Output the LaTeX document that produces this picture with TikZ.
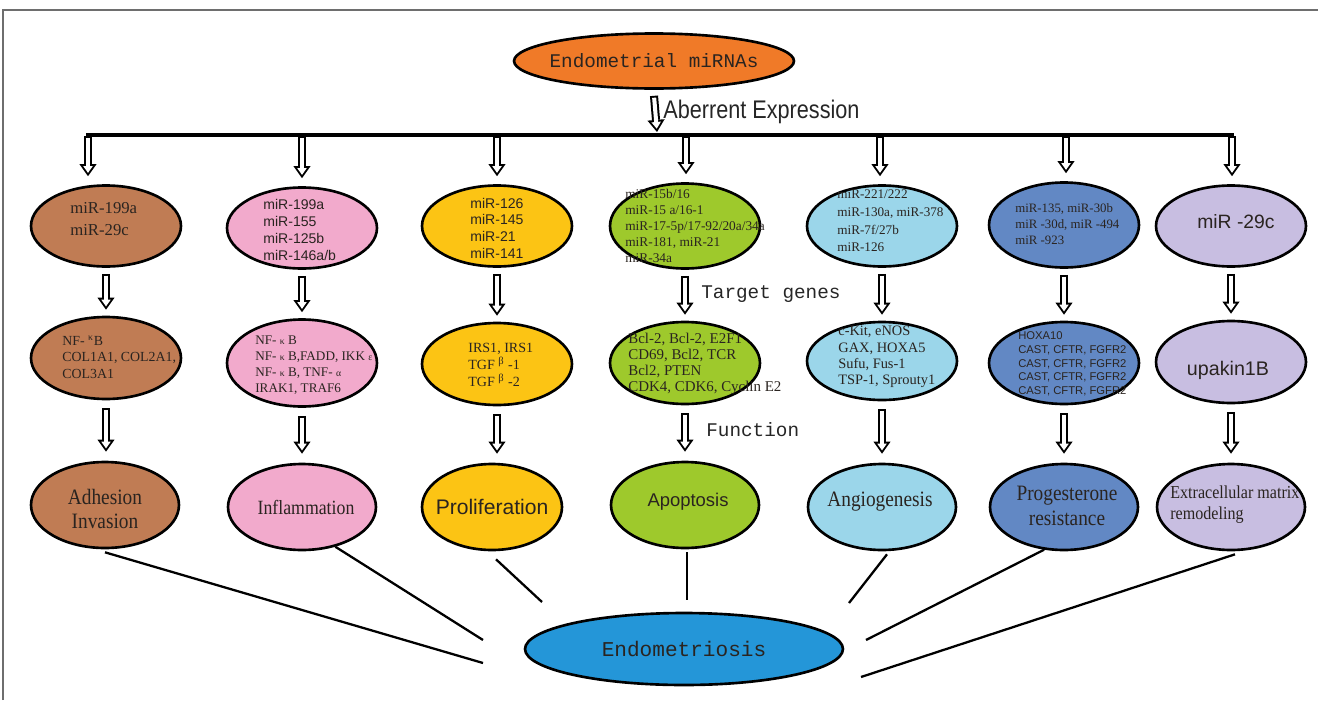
\documentclass[tikz,border=0pt]{standalone}
\usepackage{fontspec}
\setmainfont{Liberation Serif}
\setsansfont{Liberation Sans}
\setmonofont{Liberation Mono}
\newfontfamily\condsans[FakeStretch=0.85]{Liberation Sans}
\newfontfamily\condserif[FakeStretch=0.88]{Liberation Serif}
\usepackage{tikz}
\usetikzlibrary{arrows.meta,shapes.geometric,calc}
\definecolor{MirOrange}{RGB}{240,122,40}
\definecolor{AdhBrown}{RGB}{192,124,84}
\definecolor{InfPink}{RGB}{242,170,204}
\definecolor{ProYellow}{RGB}{252,196,20}
\definecolor{ApoGreen}{RGB}{158,201,44}
\definecolor{AngBlue}{RGB}{155,214,234}
\definecolor{ProgBlue}{RGB}{98,136,196}
\definecolor{EcmLilac}{RGB}{200,190,225}
\definecolor{EndoBlue}{RGB}{36,150,216}
\definecolor{FrameGray}{RGB}{110,110,110}
\definecolor{InkGray}{RGB}{42,36,32}
\newcommand{\smallgr}[1]{{\fontsize{5.5}{5.5}\selectfont #1}}
\tikzset{
  blob/.style={ellipse, draw=black, line width=1.5pt, inner sep=0pt},
  mirrow/.style={blob, minimum width=3cm, minimum height=1.62cm},
  generow/.style={blob, minimum width=3cm, minimum height=1.64cm},
  funcrow/.style={blob, minimum width=2.96cm, minimum height=1.72cm},
  inktext/.style={text=InkGray, inner sep=0pt, align=left},
  steplabel/.style={inner sep=0pt, text=black!85},
  % hollow block arrow: black outline drawn first, white core on top
  hollow/.style={white, line width=2.3pt, shorten <=1.1pt, shorten >=1.9pt,
    -{Triangle[length=3.8pt,width=5.4pt,line width=0pt]},
    preaction={draw=black, line width=4.6pt, shorten <=0pt, shorten >=0pt,
      -{Triangle[length=6.9pt,width=9.8pt,line width=0pt]}}},
  bus/.style={line width=2pt, line cap=rect},
  link/.style={line width=1.3pt},
}

\begin{document}
\begin{tikzpicture}[x=0.02cm, y=-0.02cm]
  \useasboundingbox (0,0) rectangle (1318,700);
  \draw[FrameGray, line width=0.9pt] (3,700) -- (3,10) -- (1318,10);

  % --- Source of the miRNAs ---------------------------------------------------
  \node[blob, fill=MirOrange, minimum width=5.6cm, minimum height=1.1cm] (mirnas) at (654,61) {};
  \node[inktext, font=\ttfamily\fontsize{11}{13}\selectfont] (mirnastxt) at (mirnas) {Endometrial miRNAs};

  \coordinate (b0) at (657,135);
  \coordinate (b1) at (88,135);
  \coordinate (b7) at (1232,135);
  \draw[bus] (b1) -- (b7);
  \draw[hollow] ($(mirnas.south)+(0,6)$) -- ($(b0)+(0,-3)$);
  \node[steplabel, anchor=west, font=\condsans\fontsize{14.5}{16}\selectfont] (aberrent) at (663,112) {Aberrent Expression};

  % --- miRNA groups -----------------------------------------------------------
  \node[mirrow, fill=AdhBrown]  (mir1) at (106,226) {};
  \node[mirrow, fill=InfPink]   (mir2) at (302,228) {};
  \node[mirrow, fill=ProYellow] (mir3) at (497,226) {};
  \node[mirrow, fill=ApoGreen, minimum height=1.7cm] (mir4) at (685,226) {};
  \node[mirrow, fill=AngBlue]   (mir5) at (882,226) {};
  \node[mirrow, fill=ProgBlue, minimum height=1.7cm] (mir6) at (1064,225) {};
  \node[mirrow, fill=EcmLilac]  (mir7) at (1231,226) {};

  \node[inktext, anchor=west, font=\fontsize{9.5}{12.5}\selectfont] (mir1txt) at (70,219) {miR-199a\\miR-29c};
  \node[inktext, anchor=west, font=\sffamily\fontsize{8}{9.5}\selectfont] (mir2txt) at (263,230) {miR-199a\\miR-155\\miR-125b\\miR-146a/b};
  \node[inktext, anchor=west, font=\sffamily\fontsize{8}{9.5}\selectfont] (mir3txt) at (470,228) {miR-126\\miR-145\\miR-21\\miR-141};
  \node[inktext, anchor=west, font=\fontsize{7.6}{9.2}\selectfont] (mir4txt) at (625,226) {miR-15b/16\\miR-15 a/16-1\\miR-17-5p/17-92/20a/34a\\miR-181, miR-21\\miR-34a};
  \node[inktext, anchor=west, font=\fontsize{7.5}{10}\selectfont] (mir5txt) at (837,221) {miR-221/222\\miR-130a, miR-378\\miR-7f/27b\\miR-126};
  \node[inktext, anchor=west, font=\fontsize{7.3}{9}\selectfont] (mir6txt) at (1015,224) {miR-135, miR-30b\\miR -30d, miR -494\\miR -923};
  \node[inktext, font=\sffamily\fontsize{11}{13}\selectfont] (mir7txt) at (1236,222) {miR -29c};

  \foreach \i/\x in {1/88,2/302,3/497,4/686,5/880,6/1066,7/1232}
    \draw[hollow] (\x,136) -- ($(\x,0 |- mir\i.north)+(0,-8)$);

  % --- Target genes -----------------------------------------------------------
  \node[generow, fill=AdhBrown]  (gene1) at (106,358) {};
  \node[generow, fill=InfPink, minimum height=1.74cm] (gene2) at (302,363) {};
  \node[generow, fill=ProYellow] (gene3) at (497,364) {};
  \node[generow, fill=ApoGreen]  (gene4) at (685,363) {};
  \node[generow, fill=AngBlue, minimum height=1.56cm] (gene5) at (882,361) {};
  \node[generow, fill=ProgBlue]  (gene6) at (1064,363) {};
  \node[generow, fill=EcmLilac]  (gene7) at (1231,362) {};

  \node[inktext, anchor=west, font=\fontsize{7.9}{9.4}\selectfont] (gene1txt) at (62,357) {NF-~\textsuperscript{κ}B\\COL1A1, COL2A1,\\COL3A1};
  \node[inktext, anchor=west, font=\fontsize{7.5}{9.2}\selectfont] (gene2txt) at (255,365) {NF- \smallgr{κ} B\\NF- \smallgr{κ} B,FADD, IKK \smallgr{ε}\\NF- \smallgr{κ} B, TNF- \smallgr{α}\\IRAK1, TRAF6};
  \node[inktext, anchor=west, font=\fontsize{8}{9.5}\selectfont] (gene3txt) at (468,365) {IRS1, IRS1\\TGF \textsuperscript{β} -1\\TGF \textsuperscript{β} -2};
  \node[inktext, anchor=west, font=\fontsize{8.5}{9.2}\selectfont] (gene4txt) at (628,364) {Bcl-2, Bcl-2, E2F1\\CD69, Bcl2, TCR\\Bcl2, PTEN\\CDK4, CDK6, Cyclin E2};
  \node[inktext, anchor=west, font=\fontsize{8.2}{9.2}\selectfont] (gene5txt) at (838,357) {c-Kit, eNOS\\GAX, HOXA5\\Sufu, Fus-1\\TSP-1, Sprouty1};
  \node[inktext, anchor=west, font=\sffamily\fontsize{6.4}{7.8}\selectfont] (gene6txt) at (1018,364) {HOXA10\\CAST, CFTR, FGFR2\\CAST, CFTR, FGFR2\\CAST, CFTR, FGFR2\\CAST, CFTR, FGFR2};
  \node[inktext, font=\sffamily\fontsize{11.2}{13}\selectfont] (gene7txt) at (1228,370) {upakin1B};

  \foreach \i in {1,...,7}
    \draw[hollow] ($(mir\i.south)+(0,6)$) -- ($(mir\i.south |- gene\i.north)+(0,-6)$);
  \node[steplabel, anchor=west, font=\ttfamily\fontsize{11}{13}\selectfont] (targetlab) at (701,294) {Target genes};

  % --- Functions --------------------------------------------------------------
  \node[funcrow, fill=AdhBrown]  (func1) at (105,505) {};
  \node[funcrow, fill=InfPink]   (func2) at (302,507) {};
  \node[funcrow, fill=ProYellow, minimum width=2.8cm] (func3) at (492,507) {};
  \node[funcrow, fill=ApoGreen]  (func4) at (685,505) {};
  \node[funcrow, fill=AngBlue]   (func5) at (882,507) {};
  \node[funcrow, fill=ProgBlue]  (func6) at (1064,507) {};
  \node[funcrow, fill=EcmLilac]  (func7) at (1231,507) {};

  \node[inktext, align=center, font=\condserif\fontsize{12.5}{14}\selectfont] (func1txt) at (105,509) {Adhesion\\Invasion};
  \node[inktext, font=\condserif\fontsize{11.5}{13}\selectfont] (func2txt) at (306,507) {Inflammation};
  \node[inktext, font=\sffamily\fontsize{12}{14}\selectfont] (func3txt) at (492,507) {Proliferation};
  \node[inktext, font=\sffamily\fontsize{10.5}{12}\selectfont] (func4txt) at (688,502) {Apoptosis};
  \node[inktext, font=\condserif\fontsize{12.5}{14}\selectfont] (func5txt) at (880,502) {Angiogenesis};
  \node[inktext, align=center, font=\condserif\fontsize{12.5}{14}\selectfont] (func6txt) at (1067,506) {Progesterone\\resistance};
  \node[inktext, anchor=west, font=\condserif\fontsize{10.4}{12}\selectfont] (func7txt) at (1170,505) {Extracellular matrix\\remodeling};

  \foreach \i in {1,...,7}
    \draw[hollow] ($(gene\i.south)+(0,8)$) -- ($(gene\i.south |- func\i.north)+(0,-9)$);
  \node[steplabel, anchor=west, font=\ttfamily\fontsize{11}{13}\selectfont] (functionlab) at (706,430) {Function};

  % --- Disease ----------------------------------------------------------------
  \node[blob, fill=EndoBlue, minimum width=6.36cm, minimum height=1.44cm,
        text=InkGray, font=\ttfamily\fontsize{12}{14}\selectfont] (endo) at (684,649) {Endometriosis};

  \coordinate (e1) at (483,663);
  \coordinate (e2) at (483,640);
  \coordinate (e3) at (542,602);
  \coordinate (e4) at (687,600);
  \coordinate (e5) at (849,603);
  \coordinate (e6) at (866,640);
  \coordinate (e7) at (861,677);
  \draw[link] ($(func1.south)+(0,3)$) -- (e1);
  \draw[link] (func2.-50) -- (e2);
  \draw[link] ($(func3.south)+(4,8)$) -- (e3);
  \draw[link] ($(func4.south)+(2,3)$) -- (e4);
  \draw[link] ($(func5.south)+(5,3)$) -- (e5);
  \draw[link] (func6.-115) -- (e6);
  \draw[link] ($(func7.south)+(4,3)$) -- (e7);
\end{tikzpicture}
\end{document}
